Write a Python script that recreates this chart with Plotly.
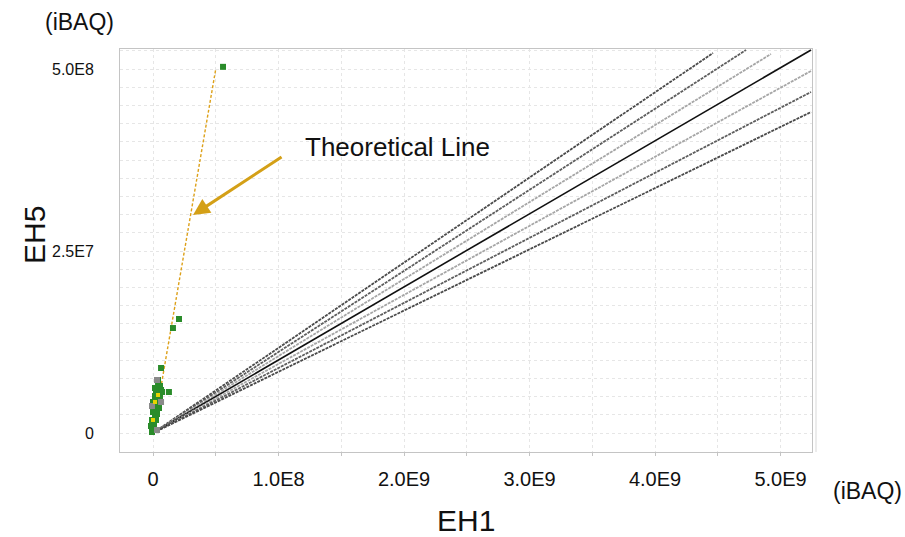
import plotly.graph_objects as go

# Units: x in 1e9 iBAQ (EH1), y in 1e8 iBAQ (EH5)
x_tick_vals = [0, 0.5, 1, 1.5, 2, 2.5, 3, 3.5, 4, 4.5, 5]
x_tick_text = ["0", "", "1.0E8", "", "2.0E9", "", "3.0E9", "", "4.0E9", "", "5.0E9"]
y_tick_vals = [i * 0.25 for i in range(22)]
y_tick_text = ["0" if v == 0 else ("2.5E7" if v == 2.5 else ("5.0E8" if v == 5.0 else "")) for v in y_tick_vals]

# reference lines from origin: end points
ref_names = ["ref1", "ref2", "ref3", "equal", "ref5", "ref6", "ref7"]
ref_end_x = [4.462, 4.725, 4.924, 5.243, 5.243, 5.243, 5.243]
ref_end_y = [5.220, 5.261, 5.206, 5.261, 4.973, 4.684, 4.409]
ref_colors = ["#4a4a4a", "#5e5e5e", "#a6a6a6", "#111111", "#a6a6a6", "#5e5e5e", "#4a4a4a"]

# theoretical line
theo_x = [0.0, 0.5]
theo_y = [0.0, 5.0]

# protein points
green_x = [0.558, 0.207, 0.159, 0.064, 0.127,
           -0.008, 0.0, 0.008, -0.008, 0.016, 0.0, 0.024, 0.008, 0.032, 0.016,
           0.040, 0.024, 0.048, 0.032, 0.056, 0.040, 0.064, 0.016, 0.0, 0.032,
           0.048, -0.016, 0.024, 0.056, 0.072, 0.016, 0.040, 0.008, 0.024]
green_y = [5.03, 1.566, 1.442, 0.893, 0.563,
           0.014, 0.069, 0.124, 0.179, 0.234, 0.288, 0.316, 0.371, 0.398, 0.453,
           0.481, 0.536, 0.563, 0.618, 0.646, 0.673, 0.591, 0.508, 0.426, 0.261,
           0.343, 0.096, 0.179, 0.508, 0.563, 0.618, 0.728, 0.041, 0.453]
gray_x = [0.032, 0.064, 0.032, -0.008]
gray_y = [0.728, 0.426, 0.041, 0.371]
yellow_x = [0.016, 0.0, 0.040]
yellow_y = [0.426, 0.179, 0.522]

fig = go.Figure()

for name, ex, ey, col in zip(ref_names, ref_end_x, ref_end_y, ref_colors):
    if name == "equal":
        line = dict(color=col, width=1.6)
    else:
        line = dict(color=col, width=1.8, dash="3px,1px")
    fig.add_trace(go.Scatter(x=[0, ex], y=[0, ey], mode="lines", line=line,
                             showlegend=False, hoverinfo="skip"))

fig.add_trace(go.Scatter(x=theo_x, y=theo_y, mode="lines",
                         line=dict(color="#DDA11A", width=1.4, dash="3px,2px"),
                         showlegend=False))

fig.add_trace(go.Scatter(x=green_x, y=green_y, mode="markers",
                         marker=dict(symbol="square", size=6, color="#2A8C2A"),
                         showlegend=False))
fig.add_trace(go.Scatter(x=gray_x, y=gray_y, mode="markers",
                         marker=dict(symbol="square", size=6, color="#8a8a8a"),
                         showlegend=False))
fig.add_trace(go.Scatter(x=yellow_x, y=yellow_y, mode="markers",
                         marker=dict(symbol="square", size=4, color="#E8D400"),
                         showlegend=False))

font_family = "Arial, Liberation Sans, sans-serif"

fig.update_layout(
    width=905, height=537,
    margin=dict(l=120, r=93, t=49, b=85),
    paper_bgcolor="white", plot_bgcolor="white",
    font=dict(family=font_family, color="#111111"),
    xaxis=dict(range=[-0.263, 5.251], tickmode="array", tickvals=x_tick_vals,
               ticktext=x_tick_text, showgrid=True, gridcolor="#e6e6e6",
               griddash="dot", gridwidth=1, zeroline=False,
               showline=True, linecolor="#c4c4c4", linewidth=1, mirror=True,
               ticks="outside", ticklen=3, tickcolor="#c4c4c4",
               tickfont=dict(size=20, color="#111111"), ticklabelstandoff=6),
    yaxis=dict(range=[-0.261, 5.275], tickmode="array", tickvals=y_tick_vals,
               ticktext=y_tick_text, showgrid=True, gridcolor="#e6e6e6",
               griddash="dot", gridwidth=1, zeroline=False,
               showline=True, linecolor="#c4c4c4", linewidth=1, mirror=True,
               ticks="", tickfont=dict(size=16, color="#111111"),
               ticklabelstandoff=22),
)

annotations = [
    dict(x=0.319, y=2.995, xref="x", yref="y", ax=90, ay=-59, text="",
         showarrow=True, arrowhead=2, arrowsize=1.1, arrowwidth=3,
         arrowcolor="#D4A017"),
    dict(x=1.195, y=3.93, xref="x", yref="y", text="Theoretical Line",
         showarrow=False, xanchor="left", yanchor="middle",
         font=dict(size=26, color="#111111")),
    dict(x=-0.1228, y=0.5385, xref="paper", yref="paper", text="EH5",
         showarrow=False, textangle=-90, xanchor="center", yanchor="middle",
         font=dict(size=30, color="#111111")),
    dict(x=0.5, y=-0.1712, xref="paper", yref="paper", text="EH1",
         showarrow=False, xanchor="center", yanchor="middle",
         font=dict(size=30, color="#111111")),
    dict(x=-0.0592, y=1.067, xref="paper", yref="paper", text="(iBAQ)",
         showarrow=False, xanchor="center", yanchor="middle",
         font=dict(size=23, color="#111111")),
    dict(x=1.0795, y=-0.0968, xref="paper", yref="paper", text="(iBAQ)",
         showarrow=False, xanchor="center", yanchor="middle",
         font=dict(size=23, color="#111111")),
]
fig.update_layout(annotations=annotations)

fig.add_shape(type="line", xref="paper", yref="paper",
              x0=1 + 4 / 692, x1=1 + 4 / 692, y0=0, y1=1,
              line=dict(color="#ececec", width=2))

fig.write_html("out.html")
